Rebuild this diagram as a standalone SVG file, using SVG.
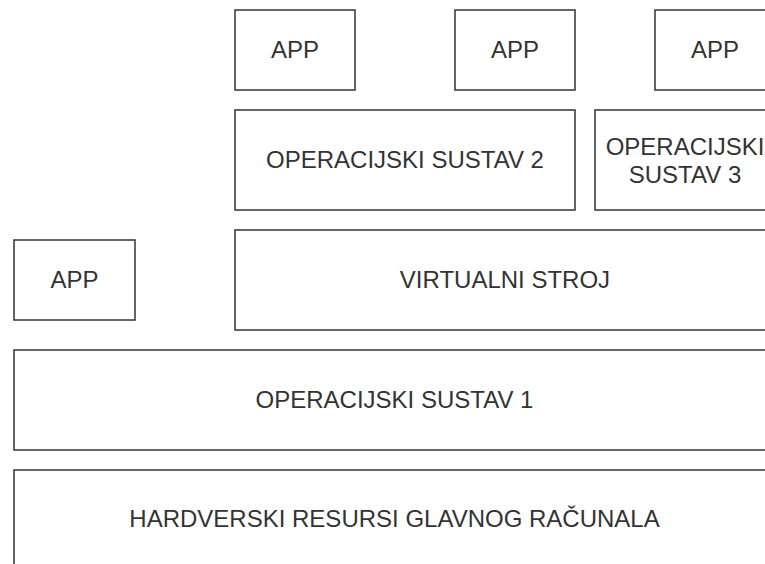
<svg xmlns="http://www.w3.org/2000/svg" width="765" height="564" viewBox="0 0 765 564">
<style>
rect.box{fill:#ffffff;stroke:#333333;stroke-width:1.5}
text{font-family:"Liberation Sans",Arial,sans-serif;font-size:24px;fill:#333333;text-anchor:middle}
</style>
<rect x="0" y="0" width="765" height="564" fill="#ffffff"/>
<g id="app1"><rect class="box" x="235" y="10" width="120" height="80"/><text x="295" y="57.5">APP</text></g>
<g id="app2"><rect class="box" x="455" y="10" width="120" height="80"/><text x="515" y="57.5">APP</text></g>
<g id="app3"><rect class="box" x="655" y="10" width="120" height="80"/><text x="715" y="57.5">APP</text></g>
<g id="os2"><rect class="box" x="235" y="110" width="340" height="100"/><text x="405" y="167.5">OPERACIJSKI SUSTAV 2</text></g>
<g id="os3"><rect class="box" x="595" y="110" width="180" height="100"/><text x="685" y="154.5">OPERACIJSKI</text><text x="685" y="183">SUSTAV 3</text></g>
<g id="app0"><rect class="box" x="14" y="240" width="121" height="80"/><text x="74.5" y="287.5">APP</text></g>
<g id="vm"><rect class="box" x="235" y="230" width="540" height="100"/><text x="505" y="287.5">VIRTUALNI STROJ</text></g>
<g id="os1"><rect class="box" x="14" y="350" width="761" height="100"/><text x="394.5" y="407.5">OPERACIJSKI SUSTAV 1</text></g>
<g id="hw"><rect class="box" x="14" y="470" width="761" height="100"/><text x="394.5" y="527">HARDVERSKI RESURSI GLAVNOG RAČUNALA</text></g>
<g id="connectors"></g>
</svg>
